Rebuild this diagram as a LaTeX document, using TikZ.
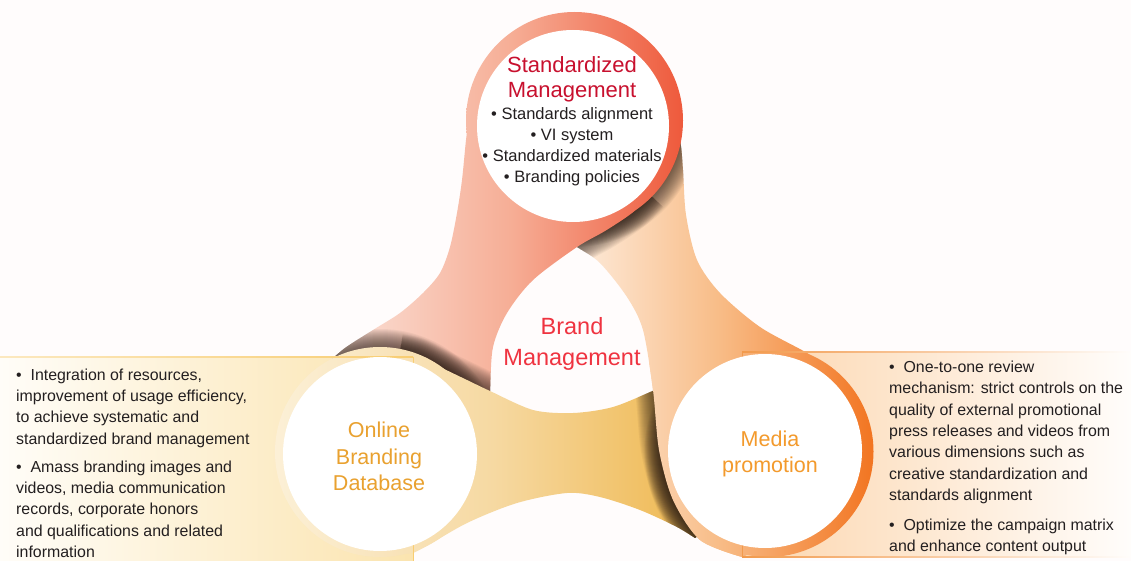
\documentclass[tikz,border=0pt]{standalone}
\usepackage{fontspec}
\setmainfont{Liberation Sans}

\definecolor{bgwhite}{HTML}{FFFCFC}
\definecolor{salmonL}{HTML}{FBE3DA}
\definecolor{salmonM}{HTML}{F6AE96}
\definecolor{salmonR}{HTML}{EE5638}
\definecolor{peachL}{HTML}{FEF0E4}
\definecolor{peachM}{HTML}{F8BD88}
\definecolor{peachR}{HTML}{F27420}
\definecolor{goldL}{HTML}{FCF1D9}
\definecolor{goldM}{HTML}{F6D9A2}
\definecolor{goldR}{HTML}{EEB447}
\definecolor{shadowcol}{HTML}{2E2018}
\definecolor{titlered}{HTML}{C8102E}
\definecolor{brandred}{HTML}{EF3340}
\definecolor{onlinegold}{HTML}{E9A12F}
\definecolor{mediaorange}{HTML}{F39A2C}
\definecolor{bodytext}{HTML}{231F20}
\definecolor{lboxL}{HTML}{FFFDF8}
\definecolor{lboxR}{HTML}{FBE4AF}
\definecolor{lboxline}{HTML}{F8CD72}
\definecolor{rboxL}{HTML}{FCD6AE}
\definecolor{rboxR}{HTML}{FFFDFB}
\definecolor{rboxline}{HTML}{F29A4C}

% ribbon outlines (y grows downwards)
\def\salmonarm{plot[smooth] coordinates {(470,110) (466,140) (462,180) (457,213) (450,247) (440,273) (423,293) (400,313) (373,330) (345,348) (330,362) (322,380)} -- (380,430) -- (470,430) -- plot[smooth] coordinates {(488,420) (490,391) (493,347) (507,313) (533,280) (577,247) (605,231) (632,213) (650,195)} -- (600,140) -- cycle}
\def\peacharm{plot[smooth] coordinates {(670,100) (680,140) (683,170) (686,215) (697,260) (720,293) (760,327) (807,353) (830,370)} -- (800,450) -- (768,545) -- plot[smooth] coordinates {(742,557) (700,540) (673,500) (659,450) (653,390) (643,330) (627,297) (600,263) (577,247) (555,233)} -- (600,150) -- cycle}
\def\goldarm{plot[smooth] coordinates {(400,352) (418,356) (440,367) (467,380) (490,391) (533,410) (573,413) (613,407) (655,390) (685,378)} -- (725,450) -- (720,520) -- plot[smooth] coordinates {(695,538) (677,527) (640,510) (600,497) (567,493) (517,503) (467,523) (413,553) (400,548)} -- (400,450) -- cycle}

% gradient paints, fixed in absolute coordinates
\newcommand\salmonpaint{\shade[left color=salmonL, right color=salmonR, middle color=salmonM] (330,0) rectangle (690,440);}
\newcommand\peachpaint{\shade[left color=peachL, right color=peachR, middle color=peachM] (560,90) rectangle (875,561);}
\newcommand\goldpaint{\shade[left color=goldL, right color=goldR, middle color=goldM] (265,340) rectangle (720,561);}
% soft shadow along an edge
\newcommand\castshadow[1]{\foreach \w in {36,34,...,2}{\draw[shadowcol, opacity=0.05, line width=\w pt] #1;}}

\begin{document}
\begin{tikzpicture}[x=1pt,y=-1pt,
  bodypara/.style={anchor=north west, align=left, inner sep=0pt, text=bodytext,
    font=\fontsize{15.9}{21.3}\selectfont},
  circletitle/.style={anchor=north, align=center, inner sep=0pt}]
\useasboundingbox (0,0) rectangle (1131,561);
\fill[bgwhite] (0,0) rectangle (1131,561);

\coordinate (topo) at (574.5,120.5);
\coordinate (topi) at (573,126);
\coordinate (lefto) at (380,452);
\coordinate (lefti) at (380,454);
\coordinate (righto) at (768,451.5);
\coordinate (righti) at (765,451);

% text panels
\shade[left color=lboxL, right color=lboxR] (0,357) rectangle (413,561);
\shade[left color=rboxL, right color=rboxR] (742,352) rectangle (1131,557);

% peach ribbon (right circle up to the top circle)
\begin{scope}\clip \peacharm; \peachpaint \end{scope}
\begin{scope}\clip \peacharm;
  \castshadow{(topo) circle[radius=108.5]}
  \castshadow{plot[smooth] coordinates {(490,391) (493,347) (507,313) (533,280) (577,247) (605,231) (632,213) (650,195)}}
\end{scope}

% salmon ribbon with the top ring
\begin{scope}\clip \salmonarm; \salmonpaint \end{scope}
\begin{scope}\clip (topo) circle[radius=108.5]; \salmonpaint \end{scope}
\begin{scope}\clip \salmonarm;
  \castshadow{(lefto) circle[radius=105]}
  \castshadow{plot[smooth] coordinates {(400,352) (418,356) (440,367) (467,380) (490,391) (533,410)}}
\end{scope}

% gold ribbon with the left ring
\begin{scope}\clip \goldarm; \goldpaint \end{scope}
\begin{scope}\clip (lefto) circle[radius=105]; \goldpaint \end{scope}
\begin{scope}\clip \goldarm;
  \castshadow{(righto) circle[radius=105.5]}
  \castshadow{plot[smooth] coordinates {(643,330) (653,390) (659,450) (673,500) (700,540) (742,557)}}
\end{scope}

% lower end of the peach ribbon and the right ring, over the gold ribbon
\begin{scope}\clip (600,362) rectangle (900,561); \clip \peacharm; \peachpaint \end{scope}
\begin{scope}\clip (righto) circle[radius=105.5]; \peachpaint \end{scope}

% panel borders
\shade[left color=white!55!lboxline, right color=lboxline] (0,356.5) rectangle (413,357.5);
\fill[lboxline] (412.5,357) rectangle (413.5,561);
\fill[rboxline] (741.5,352) rectangle (742.5,557);
\shade[left color=rboxline, right color=rboxR] (742,351.5) rectangle (1131,352.5);
\shade[left color=rboxline, right color=rboxR] (742,556.5) rectangle (1131,557.5);

% white discs
\fill[white] (topi) circle[radius=96];
\fill[white] (lefti) circle[radius=97];
\fill[white] (righti) circle[radius=97];

% labels
\node[circletitle, text=titlered, font=\fontsize{22}{25}\selectfont] (stdtitle) at (572,56) {Standardized\\Management};
\node[circletitle, text=bodytext, font=\fontsize{16.5}{21.1}\selectfont] (stdlist) at (572,107.5)
  {\textbullet\ Standards alignment\\\textbullet\ VI system\\\textbullet\ Standardized materials\\\textbullet\ Branding policies};
\node[circletitle, text=brandred, font=\fontsize{23.5}{31}\selectfont] (brand) at (572,317) {Brand\\Management};
\node[circletitle, text=onlinegold, font=\fontsize{21.5}{26.5}\selectfont] (online) at (379,422) {Online\\Branding\\Database};
\node[circletitle, text=mediaorange, font=\fontsize{21.5}{25.7}\selectfont] (media) at (770,431) {Media\\promotion};

\node[bodypara] (lpara1) at (16,368.5) {\textbullet\ \ Integration of resources,\\improvement of usage efficiency,\\to achieve systematic and\\standardized brand management};
\node[bodypara] (lpara2) at (16,460.5) {\textbullet\ \ Amass branding images and\\videos, media communication\\records, corporate honors\\and qualifications and related\\information};
\node[bodypara] (rpara1) at (889,360.8) {\textbullet\ \ One-to-one review\\mechanism: strict controls on the\\quality of external promotional\\press releases and videos from\\various dimensions such as\\creative standardization and\\standards alignment};
\node[bodypara] (rpara2) at (889,518.5) {\textbullet\ \ Optimize the campaign matrix\\and enhance content output};
\end{tikzpicture}
\end{document}
